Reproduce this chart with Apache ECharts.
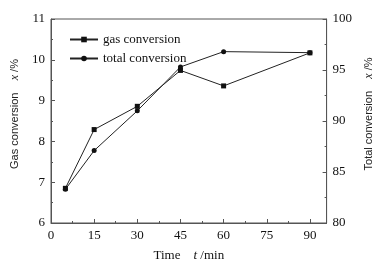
<!DOCTYPE html>
<html>
<head>
<meta charset="utf-8">
<script src="https://cdn.jsdelivr.net/npm/echarts@6/dist/echarts.min.js"></script>
<style>
  html, body { margin: 0; padding: 0; background: #fff; }
  #chart { width: 383px; height: 267px; }
</style>
</head>
<body>
<div id="chart"></div>
<script>
// time points (min)
var times = [5, 15, 30, 45, 60, 90];
// gas conversion, left axis (%)
var gasConv = [6.85, 8.29, 8.86, 9.74, 9.36, 10.17];
// total conversion, right axis (%)
var totalConv = [83.3, 87.1, 91.0, 95.3, 96.8, 96.7];

var font = "'Liberation Serif', 'Times New Roman', serif";
var sideFont = "'Liberation Sans', Arial, sans-serif";
var axisCol = "#555";

function pairs(xs, ys) {
  return xs.map(function (x, i) { return [x, ys[i]]; });
}

var tick = { show: true, inside: true, length: 4, lineStyle: { color: axisCol } };
var minor = { show: true, splitNumber: 2, length: 2, lineStyle: { color: axisCol } };
var lbl = { color: "#111", fontFamily: font, fontSize: 13 };
var nameStyle = {
  color: "#111", fontFamily: font, fontSize: 13,
  rich: { i: { fontStyle: "italic", fontFamily: font, fontSize: 13, color: "#111" } }
};
var sideName = {
  color: "#222", fontFamily: sideFont, fontSize: 11,
  padding: [0, 0, 0, 14],
  rich: { i: { fontStyle: "italic", fontFamily: font, fontSize: 12, color: "#222" } }
};

var myChart = echarts.init(document.getElementById("chart"));
myChart.setOption({
  animation: false,
  grid: {
    left: 51, right: 55, top: 19, bottom: 40,
    show: true, borderColor: axisCol, borderWidth: 1, backgroundColor: "transparent"
  },
  legend: {
    orient: "vertical",
    left: 64, top: 28,
    itemWidth: 28, itemHeight: 7, itemGap: 6,
    textStyle: { fontFamily: font, fontSize: 13, color: "#111" },
    data: ["gas conversion", "total conversion"]
  },
  xAxis: {
    type: "value",
    min: 0, max: 95.8, interval: 15,
    name: "Time    {i|t} /min",
    nameLocation: "middle", nameGap: 26,
    nameTextStyle: nameStyle,
    axisLine: { lineStyle: { color: axisCol } },
    axisTick: tick,
    minorTick: minor,
    splitLine: { show: false },
    axisLabel: Object.assign({ showMaxLabel: false, margin: 6 }, lbl)
  },
  yAxis: [
    {
      type: "value",
      min: 6, max: 11, interval: 1,
      name: "Gas conversion    {i|x} /%",
      nameLocation: "middle", nameGap: 25, nameRotate: 90,
      nameTextStyle: sideName,
      axisLine: { show: true, lineStyle: { color: axisCol } },
      axisTick: tick,
      minorTick: minor,
      splitLine: { show: false },
      axisLabel: Object.assign({ margin: 6 }, lbl)
    },
    {
      type: "value",
      min: 80, max: 100, interval: 5,
      name: "Total conversion    {i|x} /%",
      nameLocation: "middle", nameGap: 24, nameRotate: 90,
      nameTextStyle: sideName,
      axisLine: { show: true, lineStyle: { color: axisCol } },
      axisTick: tick,
      minorTick: minor,
      splitLine: { show: false },
      axisLabel: Object.assign({ margin: 6 }, lbl)
    }
  ],
  series: [
    {
      name: "gas conversion",
      type: "line",
      yAxisIndex: 0,
      data: pairs(times, gasConv),
      symbol: "rect", symbolSize: 5,
      itemStyle: { color: "#111" },
      lineStyle: { color: "#222", width: 1 }
    },
    {
      name: "total conversion",
      type: "line",
      yAxisIndex: 1,
      data: pairs(times, totalConv),
      symbol: "circle", symbolSize: 5,
      itemStyle: { color: "#111" },
      lineStyle: { color: "#222", width: 1 }
    }
  ]
});
</script>
</body>
</html>
